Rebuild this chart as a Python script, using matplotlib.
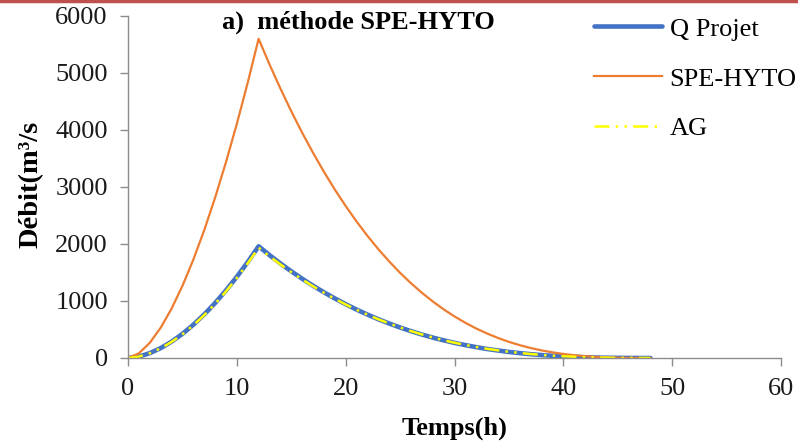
import matplotlib
matplotlib.use("Agg")
import matplotlib.pyplot as plt
from matplotlib.lines import Line2D
import numpy as np

plt.rcParams['font.family'] = ['Liberation Serif', 'DejaVu Serif']

# time in hours
temps = list(range(0, 49))

q_projet = [0, 25, 85, 173, 286, 423, 583, 763, 964, 1185, 1425, 1683, 1960,
            1805, 1659, 1521, 1391, 1268, 1153, 1045, 944, 849, 762, 680, 605,
            535, 471, 412, 358, 310, 265, 226, 190, 158, 131, 106, 85, 67, 51,
            39, 28, 20, 13, 8, 5, 2, 1, 0, 0]

spe_hyto = [0, 82, 266, 530, 865, 1265, 1724, 2240, 2811, 3434, 4108, 4830, 5600,
            5152, 4729, 4329, 3953, 3600, 3268, 2956, 2666, 2395, 2143, 1909, 1694,
            1494, 1312, 1145, 992, 854, 729, 617, 517, 429, 351, 283, 225, 175, 133,
            99, 71, 49, 32, 19, 10, 5, 2, 1, 0]

ag = [0, 24, 83, 170, 281, 416, 574, 752, 950, 1168, 1405, 1660, 1935,
      1785, 1642, 1506, 1379, 1258, 1145, 1039, 939, 846, 760, 679, 605,
      536, 472, 414, 360, 312, 268, 229, 193, 161, 134, 109, 88, 70, 54,
      41, 30, 22, 15, 10, 6, 3, 2, 1, 0]

fig = plt.figure(figsize=(7.98, 4.44), dpi=100)
ax = fig.add_axes([0.1604, 0.1937, 0.8183, 0.7703])

ax.plot(temps, q_projet, color='#4472C4', lw=3.3, solid_capstyle='round', label='Q Projet')
ax.plot(temps, spe_hyto, color='#ED7D31', lw=1.6, label='SPE-HYTO')
ax.plot(temps, ag, color='#FFFF00', lw=1.8, dashes=(6, 2.5, 1, 2.5, 1, 2.5), label='AG')

ax.set_xlim(0, 60)
ax.set_ylim(0, 6000)
ax.set_xticks(range(0, 61, 10))
ax.set_yticks(range(0, 6001, 1000))

for s in ['top', 'right']:
    ax.spines[s].set_visible(False)
for s in ['left', 'bottom']:
    ax.spines[s].set_color('#8C8C8C')
    ax.spines[s].set_linewidth(1.0)
ax.tick_params(axis='both', direction='out', length=5.5, width=1.0, color='#8C8C8C',
               labelsize=19, labelcolor='#1A1A1A', pad=9)

ax.set_xlabel('Temps(h)', fontsize=19, fontweight='bold')
ax.xaxis.set_label_coords(0.5, -0.17)
ax.set_ylabel('Débit(m³/s', fontsize=20.5, fontweight='bold', va='center')
ax.yaxis.set_label_coords(-0.148, 0.509)
ax.text(0.144, 0.982, 'a)  méthode SPE-HYTO', transform=ax.transAxes, fontsize=19,
        fontweight='bold', va='center', ha='left')

leg = ax.legend(loc='upper left', bbox_to_anchor=(0.694, 1.035), frameon=False,
                borderpad=0, fontsize=19, handlelength=2.55, labelspacing=1.0,
                handletextpad=0.3)

# red rule at the very top of the image
fig.add_artist(Line2D([0, 1], [0.997, 0.997], transform=fig.transFigure,
                      color='#C0504D', lw=2.5))

fig.savefig('out.png', dpi=100)
